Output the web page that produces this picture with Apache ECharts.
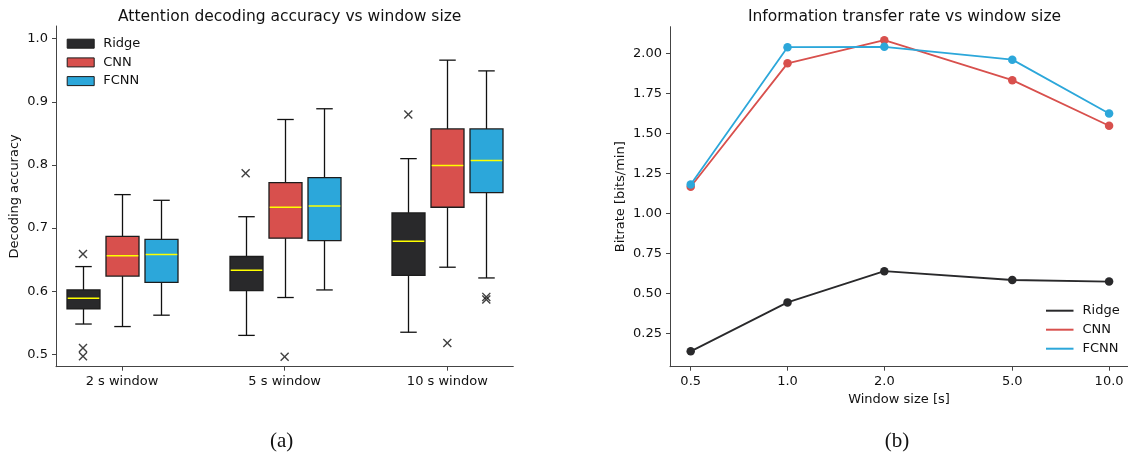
<!DOCTYPE html>
<html>
<head>
<meta charset="utf-8">
<script src="https://cdn.jsdelivr.net/npm/echarts@6/dist/echarts.min.js"></script>
<style>
html,body{margin:0;padding:0;background:#fff;}
#chart{width:1128px;height:457px;}
</style>
</head>
<body>
<div id="chart"></div>
<script>
// ---------- data ----------
const windowGroups = ['2 s window', '5 s window', '10 s window'];
// [min whisker, Q1, median, Q3, max whisker] per window group
const ridgeBox = [[0.548, 0.572, 0.589, 0.602, 0.639], [0.530, 0.601, 0.633, 0.655, 0.718], [0.535, 0.625, 0.679, 0.724, 0.810]];
const cnnBox   = [[0.544, 0.624, 0.656, 0.687, 0.753], [0.590, 0.684, 0.733, 0.772, 0.872], [0.638, 0.733, 0.799, 0.857, 0.966]];
const fcnnBox  = [[0.562, 0.614, 0.658, 0.682, 0.744], [0.602, 0.680, 0.735, 0.780, 0.889], [0.621, 0.756, 0.807, 0.857, 0.949]];
// outliers: [group index, value]
const ridgeOutliers = [[0, 0.659], [0, 0.510], [0, 0.497], [1, 0.787], [2, 0.880]];
const cnnOutliers   = [[1, 0.496], [2, 0.518]];
const fcnnOutliers  = [[2, 0.591], [2, 0.587]];
const accuracyTicks = [0.5, 0.6, 0.7, 0.8, 0.9, 1.0];

const windowSizes = [0.5, 1.0, 2.0, 5.0, 10.0];
const ridgeRate = [0.137, 0.443, 0.638, 0.583, 0.573];
const cnnRate   = [1.166, 1.937, 2.082, 1.832, 1.547];
const fcnnRate  = [1.180, 2.038, 2.040, 1.960, 1.623];
const rateTicks = [0.25, 0.50, 0.75, 1.00, 1.25, 1.50, 1.75, 2.00];

const modelNames = ['Ridge', 'CNN', 'FCNN'];

// ---------- style ----------
const colors = { Ridge: '#29292b', CNN: '#d8504d', FCNN: '#2ca7da' };
const boxOffsetPx = { Ridge: -39, CNN: 0, FCNN: 39 };
const BOX_W = 33;
const FONT = 'DejaVu Sans';
const TXT = '#111';
const AXIS = '#444';
const X_MARK = 'path://M0,1.1L1.1,0L5,3.9L8.9,0L10,1.1L6.1,5L10,8.9L8.9,10L5,6.1L1.1,10L0,8.9L3.9,5Z';

function boxRows(stats) {
  return stats.map((s, i) => [i + 1].concat(s));
}
function outlierRows(list) {
  return list.map(o => [o[0] + 1, o[1]]);
}

function makeRender(name) {
  const off = boxOffsetPx[name];
  const fill = colors[name];
  return function (params, api) {
    const pos = api.value(0);
    const lo = api.coord([pos, api.value(1)]);
    const q1 = api.coord([pos, api.value(2)]);
    const md = api.coord([pos, api.value(3)]);
    const q3 = api.coord([pos, api.value(4)]);
    const hi = api.coord([pos, api.value(5)]);
    const cx = Math.round(lo[0] + off) + 0.5;
    const hw = BOX_W / 2, cw = BOX_W / 4;
    const ls = { stroke: '#111', lineWidth: 1.3 };
    return {
      type: 'group',
      children: [
        { type: 'line', shape: { x1: cx, y1: lo[1], x2: cx, y2: q1[1] }, style: ls },
        { type: 'line', shape: { x1: cx, y1: q3[1], x2: cx, y2: hi[1] }, style: ls },
        { type: 'line', shape: { x1: cx - cw, y1: lo[1], x2: cx + cw, y2: lo[1] }, style: ls },
        { type: 'line', shape: { x1: cx - cw, y1: hi[1], x2: cx + cw, y2: hi[1] }, style: ls },
        { type: 'rect', shape: { x: cx - hw, y: q3[1], width: BOX_W, height: q1[1] - q3[1] },
          style: { fill: fill, stroke: '#1c1c1c', lineWidth: 1.3 } },
        { type: 'line', shape: { x1: cx - hw + 0.7, y1: md[1], x2: cx + hw - 0.7, y2: md[1] },
          style: { stroke: '#ffff00', lineWidth: 1.5 } }
      ]
    };
  };
}

const boxData = { Ridge: ridgeBox, CNN: cnnBox, FCNN: fcnnBox };
const outData = { Ridge: ridgeOutliers, CNN: cnnOutliers, FCNN: fcnnOutliers };
const rateData = { Ridge: ridgeRate, CNN: cnnRate, FCNN: fcnnRate };

const series = [];
modelNames.forEach(name => {
  series.push({
    name: name,
    type: 'custom',
    xAxisIndex: 0, yAxisIndex: 0,
    dimensions: ['pos', 'min', 'q1', 'median', 'q3', 'max'],
    encode: { x: 0, y: [1, 2, 3, 4, 5] },
    itemStyle: { color: colors[name] },
    renderItem: makeRender(name),
    data: boxRows(boxData[name]),
    z: 3
  });
});
modelNames.forEach(name => {
  series.push({
    name: name + ' outliers',
    type: 'scatter',
    xAxisIndex: 0, yAxisIndex: 0,
    symbol: X_MARK,
    symbolSize: 9,
    symbolOffset: [boxOffsetPx[name], 0],
    itemStyle: { color: '#111' },
    data: outlierRows(outData[name]),
    z: 4
  });
});
modelNames.forEach(name => {
  series.push({
    name: name,
    type: 'line',
    xAxisIndex: 1, yAxisIndex: 1,
    symbol: 'circle',
    symbolSize: 8.5,
    lineStyle: { color: colors[name], width: 1.8 },
    itemStyle: { color: colors[name] },
    data: windowSizes.map((w, i) => [w, rateData[name][i]]),
    z: 3
  });
});

const axisLabelBase = { color: TXT, fontSize: 13, fontFamily: FONT, margin: 8 };
const tickBase = { show: true, length: 4, lineStyle: { color: AXIS, width: 1 } };

const option = {
  animation: false,
  backgroundColor: '#fff',
  textStyle: { fontFamily: FONT },
  title: [
    { text: 'Attention decoding accuracy vs window size', left: 284.7, top: 4, textAlign: 'center',
      textStyle: { fontSize: 15.5, fontWeight: 'normal', color: TXT, fontFamily: FONT } },
    { text: 'Information transfer rate vs window size', left: 899.5, top: 4, textAlign: 'center',
      textStyle: { fontSize: 15.5, fontWeight: 'normal', color: TXT, fontFamily: FONT } },
    { text: '(a)', left: 276.7, top: 426, textAlign: 'center',
      textStyle: { fontSize: 21, fontWeight: 'normal', color: TXT, fontFamily: 'Liberation Serif' } },
    { text: '(b)', left: 892, top: 426, textAlign: 'center',
      textStyle: { fontSize: 21, fontWeight: 'normal', color: TXT, fontFamily: 'Liberation Serif' } }
  ],
  legend: [
    {
      data: modelNames, orient: 'vertical', left: 66.7, top: 36.7, padding: 0,
      icon: 'rect', itemWidth: 27, itemHeight: 9, itemGap: 4.7,
      itemStyle: { borderColor: '#1c1c1c', borderWidth: 1 },
      textStyle: { fontSize: 13, color: TXT, fontFamily: FONT, lineHeight: 14, padding: [0, 0, 0, 4] },
      selectedMode: false
    },
    {
      data: modelNames, orient: 'vertical', left: 1046, top: 303.7, padding: 0,
      icon: 'rect', itemWidth: 27.5, itemHeight: 2, itemGap: 5,
      itemStyle: { borderWidth: 0 },
      textStyle: { fontSize: 13, color: TXT, fontFamily: FONT, lineHeight: 14, padding: [0, 0, 0, 4] },
      selectedMode: false
    }
  ],
  grid: [
    { left: 56, top: 26, width: 457.3, height: 340.7, containLabel: false },
    { left: 670, top: 26.7, width: 459, height: 340, containLabel: false }
  ],
  xAxis: [
    {
      type: 'value', gridIndex: 0, min: 0.5943, max: 3.4057,
      axisLine: { show: true, lineStyle: { color: AXIS, width: 1 } },
      axisTick: Object.assign({}, tickBase, { customValues: [1, 2, 3] }),
      axisLabel: Object.assign({}, axisLabelBase, { customValues: [1, 2, 3],
        formatter: v => windowGroups[Math.round(v) - 1] }),
      splitLine: { show: false }
    },
    {
      type: 'log', gridIndex: 1, logBase: 10, min: 0.4311, max: 11.45,
      name: 'Window size [s]', nameLocation: 'middle', nameGap: 26,
      nameTextStyle: { fontSize: 13, color: TXT, fontFamily: FONT },
      axisLine: { show: true, lineStyle: { color: AXIS, width: 1 } },
      axisTick: Object.assign({}, tickBase, { customValues: windowSizes }),
      axisLabel: Object.assign({}, axisLabelBase, { customValues: windowSizes,
        formatter: v => Number(v).toFixed(1) }),
      splitLine: { show: false }, minorTick: { show: false }
    }
  ],
  yAxis: [
    {
      type: 'value', gridIndex: 0, min: 0.4804, max: 1.0201,
      name: 'Decoding accuracy', nameLocation: 'middle', nameGap: 35,
      nameTextStyle: { fontSize: 13, color: TXT, fontFamily: FONT },
      axisLine: { show: true, lineStyle: { color: AXIS, width: 1 } },
      axisTick: Object.assign({}, tickBase, { customValues: accuracyTicks }),
      axisLabel: Object.assign({}, axisLabelBase, { customValues: accuracyTicks,
        formatter: v => Number(v).toFixed(1) }),
      splitLine: { show: false }
    },
    {
      type: 'value', gridIndex: 1, min: 0.041, max: 2.166,
      name: 'Bitrate [bits/min]', nameLocation: 'middle', nameGap: 43,
      nameTextStyle: { fontSize: 13, color: TXT, fontFamily: FONT },
      axisLine: { show: true, lineStyle: { color: AXIS, width: 1 } },
      axisTick: Object.assign({}, tickBase, { customValues: rateTicks }),
      axisLabel: Object.assign({}, axisLabelBase, { customValues: rateTicks,
        formatter: v => Number(v).toFixed(2) }),
      splitLine: { show: false }
    }
  ],
  series: series
};

const chart = echarts.init(document.getElementById('chart'), null, { renderer: 'canvas' });
chart.setOption(option);
</script>
</body>
</html>
